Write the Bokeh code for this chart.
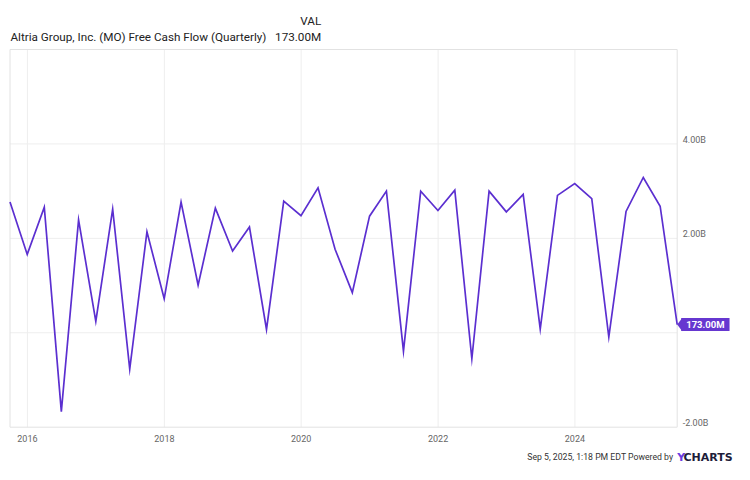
import pandas as pd
from bokeh.plotting import figure
from bokeh.models import Range1d, ColumnDataSource, Label, PolyAnnotation
from bokeh.embed import file_html
from bokeh.resources import INLINE

# ---------------- data ----------------
quarter_ends = [
    "2015-09-30", "2015-12-31",
    "2016-03-31", "2016-06-30", "2016-09-30", "2016-12-31",
    "2017-03-31", "2017-06-30", "2017-09-30", "2017-12-31",
    "2018-03-31", "2018-06-30", "2018-09-30", "2018-12-31",
    "2019-03-31", "2019-06-30", "2019-09-30", "2019-12-31",
    "2020-03-31", "2020-06-30", "2020-09-30", "2020-12-31",
    "2021-03-31", "2021-06-30", "2021-09-30", "2021-12-31",
    "2022-03-31", "2022-06-30", "2022-09-30", "2022-12-31",
    "2023-03-31", "2023-06-30", "2023-09-30", "2023-12-31",
    "2024-03-31", "2024-06-30", "2024-09-30", "2024-12-31",
    "2025-03-31", "2025-06-30",
]
fcf_billions = [
    2.77, 1.66,
    2.66, -1.67, 2.39, 0.24,
    2.62, -0.77, 2.14, 0.72,
    2.77, 1.01, 2.64, 1.73,
    2.24, 0.07, 2.79, 2.48,
    3.07, 1.77, 0.85, 2.47,
    3.00, -0.39, 3.00, 2.59,
    3.02, -0.55, 3.00, 2.56,
    2.93, 0.08, 2.91, 3.16,
    2.84, -0.09, 2.57, 3.29,
    2.68, 0.173,
]
x_tick_years = [2016, 2018, 2020, 2022, 2024]
y_grid_values = [0, 2, 4]
y_tick_labels = {-2: "-2.00B", 2: "2.00B", 4: "4.00B"}
y_min, y_max = -2, 6
title_text = "Altria Group, Inc. (MO) Free Cash Flow (Quarterly)"
val_header = "VAL"
footer_text = "Sep 5, 2025, 1:18 PM EDT Powered by"

# ---------------- layout / styles ----------------
FONT = "Roboto"
LINE_PURPLE = "#5b2fd0"
TAG_PURPLE = "#6637d0"
GRID = "#eeeeee"
BOX = "#e2e2e2"
LABEL_GRAY = "#666666"
DARK = "#222222"

W, H = 734, 464
# pixel box of the data area inside the canvas
BOX_L, BOX_R, BOX_T, BOX_B = 9.5, 676.7, 49.0, 426.7


def ms(s):
    return pd.Timestamp(s).value // 10**6


x_ms = [ms(d) for d in quarter_ends]
x_start, x_end = x_ms[0], x_ms[-1]
kx = (BOX_R - BOX_L) / (x_end - x_start)          # px per ms
ky = (BOX_B - BOX_T) / (y_max - y_min)            # px per unit
xr = Range1d(x_start - BOX_L / kx, x_end + (W - BOX_R) / kx)
yr = Range1d(y_min - (H - BOX_B) / ky, y_max + BOX_T / ky)

last_val = fcf_billions[-1]
last_text = f"{last_val * 1000:.2f}M"

p = figure(width=W, height=H, x_range=xr, y_range=yr,
           x_axis_location=None, y_axis_location=None,
           output_backend="svg", toolbar_location=None,
           min_border=0, min_border_left=0, min_border_right=0,
           min_border_top=0, min_border_bottom=0)
p.title.visible = False
p.grid.visible = False
p.outline_line_color = None
p.background_fill_color = "white"
p.border_fill_color = "white"

x_ticks = [ms(f"{y}-01-01") for y in x_tick_years]

# grid lines (limited to the data box)
p.segment(x0=[x_start] * len(y_grid_values), x1=[x_end] * len(y_grid_values),
          y0=y_grid_values, y1=y_grid_values, line_color=GRID, line_width=1)
p.segment(x0=x_ticks, x1=x_ticks, y0=[y_min] * len(x_ticks), y1=[y_max] * len(x_ticks),
          line_color=GRID, line_width=1)
# data box outline
p.quad(left=[x_start], right=[x_end], bottom=[y_min], top=[y_max],
       fill_color=None, line_color=BOX, line_width=1)

# the series
src = ColumnDataSource(dict(date=x_ms, fcf=fcf_billions))
p.line("date", "fcf", source=src, line_color=LINE_PURPLE, line_width=1.7,
       line_join="miter")

# x tick labels
for xt, yr_lbl in zip(x_ticks, x_tick_years):
    p.add_layout(Label(x=xt, y=y_min, text=str(yr_lbl), y_offset=-11,
                       text_align="center", text_baseline="middle",
                       text_font=FONT, text_font_size="9px",
                       text_color=LABEL_GRAY))

# y tick labels (right side, slightly above their grid lines)
for v, t in y_tick_labels.items():
    p.add_layout(Label(x=x_end, y=v, text=t, x_offset=5.5, y_offset=4,
                       text_align="left", text_baseline="middle",
                       text_font=FONT, text_font_size="9px",
                       text_color=LABEL_GRAY))

# last-value tag with notch
dx = 5.0 / kx
dy = 6.7 / ky
p.add_layout(PolyAnnotation(xs=[x_end, x_end + dx, x_end + dx],
                            ys=[last_val, last_val + dy, last_val - dy],
                            fill_color=TAG_PURPLE, fill_alpha=1.0,
                            line_color=None))
p.add_layout(Label(x=x_end, y=last_val, text=last_text, x_offset=4,
                   text_align="left", text_baseline="middle",
                   text_font=FONT, text_font_size="9.5px", text_font_style="bold",
                   text_color="white", background_fill_color=TAG_PURPLE,
                   background_fill_alpha=1.0,
                   padding=dict(left=5, right=5, top=1, bottom=1)))

# header
p.add_layout(Label(x=x_start, y=y_max, text=title_text, x_offset=0.5, y_offset=13,
                   text_align="left", text_baseline="middle",
                   text_font=FONT, text_font_size="11.7px", text_color=DARK))
p.add_layout(Label(x=x_start, y=y_max, text=last_text, x_offset=311.2, y_offset=13,
                   text_align="right", text_baseline="middle",
                   text_font=FONT, text_font_size="11.7px", text_color=DARK))
p.add_layout(Label(x=x_start, y=y_max, text=val_header, x_offset=311.2, y_offset=29,
                   text_align="right", text_baseline="middle",
                   text_font=FONT, text_font_size="11.7px", text_color=DARK))

# footer
p.add_layout(Label(x=x_end, y=y_min, text=footer_text, x_offset=-4, y_offset=-30,
                   text_align="right", text_baseline="middle",
                   text_font=FONT, text_font_size="8.7px", text_color="#333333"))
p.add_layout(Label(x=x_end, y=y_min, text="Y", x_offset=0, y_offset=-30,
                   text_align="left", text_baseline="middle",
                   text_font="DejaVu Sans", text_font_size="11px",
                   text_font_style="bold", text_color="#6a3be0"))
p.add_layout(Label(x=x_end, y=y_min, text="CHARTS", x_offset=55.5, y_offset=-30,
                   text_align="right", text_baseline="middle",
                   text_font="DejaVu Sans", text_font_size="11px",
                   text_font_style="bold", text_color="#1d1d3a"))

open("out.html", "w").write(file_html(p, INLINE))
